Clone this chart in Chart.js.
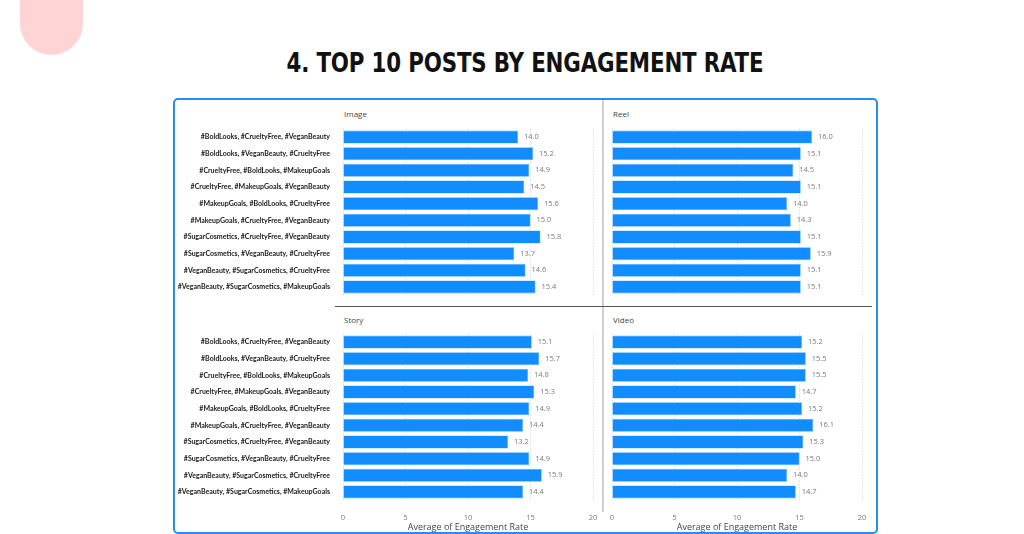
<!DOCTYPE html>
<html>
<head>
<meta charset="utf-8">
<script src="https://cdn.jsdelivr.net/npm/chart.js@4.4.0/dist/chart.umd.min.js"></script>
<style>
  body { margin: 0; width: 1024px; height: 534px; background: #fff; overflow: hidden; position: relative; font-family: "Open Sans", sans-serif; }
  .blob { position: absolute; left: 20px; top: -40px; width: 63px; height: 95px; background: #ffd4d4; border-radius: 0 0 32px 32px; }
  h1 { position: absolute; left: 0; width: 1050px; top: 46px; margin: 0; text-align: center; font-weight: bold; font-size: 27px; color: #111; line-height: 32px; }
  h1 span { display: inline-block; transform: scaleX(0.88); font-family: "DejaVu Sans Condensed", "DejaVu Sans", sans-serif; letter-spacing: -0.2px; }
  .frame { position: absolute; left: 173px; top: 98px; width: 701px; height: 432px; border: 2px solid #2a8cf0; border-radius: 5px; }
  .vdiv { position: absolute; left: 602px; top: 100px; width: 2px; height: 412px; background: #d0d0d0; }
  .hdiv { position: absolute; left: 335px; top: 306px; width: 537px; height: 1px; background: #555; }
  .ptitle { position: absolute; font-size: 8px; color: #444; font-family: "Open Sans", sans-serif; }
  canvas { position: absolute; }
</style>
</head>
<body>
<div class="blob"></div>
<h1><span>4. TOP 10 POSTS BY ENGAGEMENT RATE</span></h1>
<div class="frame"></div>
<div class="vdiv"></div>
<div class="hdiv"></div>
<div class="ptitle" style="left:344px;top:108px">Image</div>
<div class="ptitle" style="left:613px;top:108px">Reel</div>
<div class="ptitle" style="left:344px;top:314px">Story</div>
<div class="ptitle" style="left:613px;top:314px">Video</div>
<canvas id="cImage" width="425" height="185" style="left:175px;top:120px;width:425px;height:185px"></canvas>
<canvas id="cReel" width="270" height="185" style="left:605px;top:120px;width:270px;height:185px"></canvas>
<canvas id="cStory" width="425" height="209" style="left:175px;top:325px;width:425px;height:209px"></canvas>
<canvas id="cVideo" width="270" height="209" style="left:605px;top:325px;width:270px;height:209px"></canvas>
<script>
const hashtags = [
  '#BoldLooks, #CrueltyFree, #VeganBeauty',
  '#BoldLooks, #VeganBeauty, #CrueltyFree',
  '#CrueltyFree, #BoldLooks, #MakeupGoals',
  '#CrueltyFree, #MakeupGoals, #VeganBeauty',
  '#MakeupGoals, #BoldLooks, #CrueltyFree',
  '#MakeupGoals, #CrueltyFree, #VeganBeauty',
  '#SugarCosmetics, #CrueltyFree, #VeganBeauty',
  '#SugarCosmetics, #VeganBeauty, #CrueltyFree',
  '#VeganBeauty, #SugarCosmetics, #CrueltyFree',
  '#VeganBeauty, #SugarCosmetics, #MakeupGoals'
];
const imageRates = [14.0, 15.2, 14.9, 14.5, 15.6, 15.0, 15.8, 13.7, 14.6, 15.4];
const reelRates  = [16.0, 15.1, 14.5, 15.1, 14.0, 14.3, 15.1, 15.9, 15.1, 15.1];
const storyRates = [15.1, 15.7, 14.8, 15.3, 14.9, 14.4, 13.2, 14.9, 15.9, 14.4];
const videoRates = [15.2, 15.5, 15.5, 14.7, 15.2, 16.1, 15.3, 15.0, 14.0, 14.7];
const xTicks = [0, 5, 10, 15, 20];
const axisTitle = 'Average of Engagement Rate';

const barColor = '#118DFF';

// draws the value next to each bar
const valueLabels = {
  id: 'valueLabels',
  afterDatasetsDraw(chart) {
    const ctx = chart.ctx;
    ctx.save();
    ctx.font = '7.5px "Open Sans", sans-serif';
    ctx.fillStyle = '#7a7a7a';
    ctx.textBaseline = 'middle';
    chart.getDatasetMeta(0).data.forEach(function (bar, i) {
      const v = chart.data.datasets[0].data[i];
      ctx.fillText(v.toFixed(1), bar.x + 6, bar.y);
    });
    ctx.restore();
  }
};

function makeChart(id, values, showLabels, showAxis) {
  const ctx = document.getElementById(id).getContext('2d');
  return new Chart(ctx, {
    type: 'bar',
    data: {
      labels: hashtags,
      datasets: [{
        data: values,
        backgroundColor: barColor,
        borderColor: '#5aaeff',
        borderWidth: 0.6,
        barPercentage: 0.78,
        categoryPercentage: 1
      }]
    },
    options: {
      indexAxis: 'y',
      responsive: false,
      animation: false,
      layout: {
        padding: showLabels
          ? { top: 8.7, bottom: showAxis ? 0 : 9.7, right: 7, left: 0 }
          : { top: 8.7, bottom: showAxis ? 0 : 9.7, right: 13, left: 7 }
      },
      scales: {
        x: {
          min: 0,
          max: 20,
          afterBuildTicks: function (axis) { axis.ticks = xTicks.map(v => ({ value: v })); },
          afterFit: function (axis) {
            axis.height = showAxis ? 33.7 : 0;
            axis.paddingLeft = 0; axis.paddingRight = 0;
          },
          border: { display: false, dash: [1, 2] },
          grid: { color: '#cfcfcf', lineWidth: 1, drawTicks: false },
          ticks: {
            display: showAxis,
            padding: 13,
            color: '#777',
            font: { size: 7.5, family: '"Open Sans", sans-serif' }
          },
          title: {
            display: showAxis,
            text: axisTitle,
            color: '#444',
            padding: { top: 0, bottom: 1 },
            font: { size: 9, family: '"Open Sans", sans-serif' }
          }
        },
        y: {
          display: showLabels,
          afterFit: function (axis) {
            axis.width = showLabels ? 168 : 0;
            axis.paddingTop = 0; axis.paddingBottom = 0;
          },
          border: { display: false },
          grid: { display: false, drawTicks: false },
          ticks: {
            padding: 13,
            color: '#1a1a1a',
            font: { size: 7, weight: 'bold', family: 'Lato, sans-serif' }
          }
        }
      },
      plugins: {
        legend: { display: false },
        tooltip: { enabled: false }
      }
    },
    plugins: [valueLabels]
  });
}

makeChart('cImage', imageRates, true, false);
makeChart('cReel', reelRates, false, false);
makeChart('cStory', storyRates, true, true);
makeChart('cVideo', videoRates, false, true);
</script>
</body>
</html>
